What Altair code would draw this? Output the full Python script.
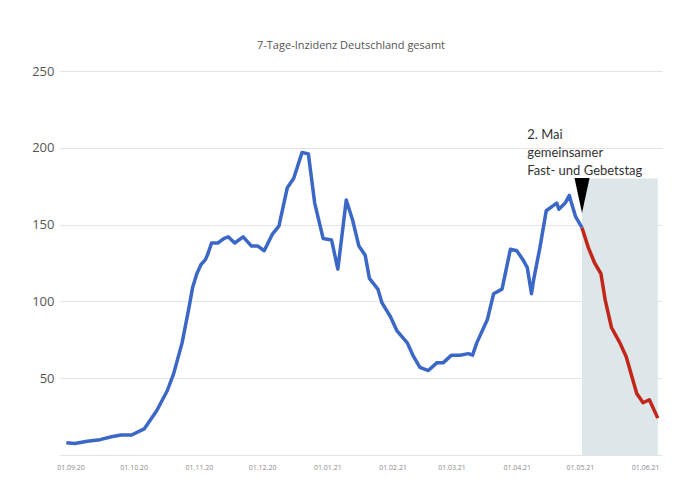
import altair as alt
import pandas as pd

blue_dates = ["2020-08-30","2020-09-03","2020-09-09","2020-09-15","2020-09-21","2020-09-25","2020-09-30",
    "2020-10-06","2020-10-12","2020-10-17","2020-10-20","2020-10-24","2020-10-27","2020-10-29","2020-10-31",
    "2020-11-02","2020-11-04","2020-11-05","2020-11-07","2020-11-10","2020-11-13","2020-11-15","2020-11-18",
    "2020-11-22","2020-11-26","2020-11-29","2020-12-02","2020-12-06","2020-12-09","2020-12-13","2020-12-15",
    "2020-12-16","2020-12-20","2020-12-23","2020-12-26","2020-12-30","2021-01-03","2021-01-06","2021-01-10",
    "2021-01-13","2021-01-16","2021-01-19","2021-01-21","2021-01-25","2021-01-27","2021-01-31","2021-02-03",
    "2021-02-08","2021-02-11","2021-02-14","2021-02-18","2021-02-22","2021-02-25","2021-03-01","2021-03-05",
    "2021-03-09","2021-03-11","2021-03-13","2021-03-18","2021-03-21","2021-03-25","2021-03-27","2021-03-29",
    "2021-04-01","2021-04-04","2021-04-06","2021-04-08","2021-04-09","2021-04-12","2021-04-15","2021-04-18",
    "2021-04-20","2021-04-21","2021-04-24","2021-04-26","2021-04-27","2021-04-29","2021-05-02"]
blue_values = [8,7.5,9,10,12,13,13,
    17,29,42,53,73,94,109,118,
    124,127,130,138,138,141,142,138,
    142,136,136,133,144,149,174,178,
    180,197,196,164,141,140,121,166,
    153,136,130,115,108,99,90,81,
    73,64,57,55,60,60,65,65,
    66,65,73,88,105,108,121,134,
    133,127,122,105,114,135,159,162,
    164,160,164,169,164,155,148]

red_dates = ["2021-05-02","2021-05-05","2021-05-08","2021-05-11","2021-05-13","2021-05-16","2021-05-20",
    "2021-05-23","2021-05-28","2021-05-31","2021-06-03","2021-06-07"]
red_values = [148,135,125,118,101,83,73,64,40,34,36,24]

shade_start = "2021-05-02"
shade_end = "2021-06-07"
shade_top = 180

marker_date = "2021-05-02"
marker_value = 169

note_date = "2021-04-06"
note_value = 212
note_text = "2. Mai\ngemeinsamer\nFast- und Gebetstag"

title_text = "7-Tage-Inzidenz Deutschland gesamt"
y_ticks = [0, 50, 100, 150, 200, 250]

blue_df = pd.DataFrame({"date": blue_dates, "value": blue_values})
red_df = pd.DataFrame({"date": red_dates, "value": red_values})
shade_df = pd.DataFrame({"start": [shade_start], "end": [shade_end], "top": [shade_top], "bottom": [0]})
marker_df = pd.DataFrame({"date": [marker_date], "value": [marker_value]})
note_df = pd.DataFrame({"date": [note_date], "value": [note_value], "text": [note_text]})

x_ticks = [alt.DateTime(year=y, month=m, date=1, utc=True) for (y, m) in
           [(2020, 9), (2020, 10), (2020, 11), (2020, 12), (2021, 1), (2021, 2), (2021, 3), (2021, 4), (2021, 5), (2021, 6)]]

xscale = alt.Scale(type="utc", domain=[alt.DateTime(year=2020, month=8, date=27, utc=True),
                                       alt.DateTime(year=2021, month=6, date=9, utc=True)])
yscale = alt.Scale(domain=[0, 250], nice=False)

xaxis = alt.Axis(values=x_ticks, labelExpr="utcFormat(datum.value, '%d.%m.%y')", title=None, grid=False,
                 ticks=False, domain=False, labelFontSize=7, labelColor="#8a8a8a", labelPadding=8,
                 labelFont="Open Sans")
yaxis = alt.Axis(values=y_ticks, title=None, ticks=False, domain=False, grid=True, gridColor="#e4e4e4",
                 labelExpr="datum.value == 0 ? '' : datum.label", labelFontSize=13, labelColor="#555555",
                 labelPadding=6, labelFont="Open Sans")

shade = alt.Chart(shade_df).mark_rect(color="#dde6e8").encode(
    x=alt.X("start:T", scale=xscale, axis=xaxis),
    x2="end:T",
    y=alt.Y("bottom:Q", scale=yscale, axis=yaxis),
    y2="top:Q",
)

blue = alt.Chart(blue_df).mark_line(color="#3b67c6", strokeWidth=3.5, strokeJoin="round").encode(
    x=alt.X("date:T", scale=xscale),
    y=alt.Y("value:Q", scale=yscale),
)

red = alt.Chart(red_df).mark_line(color="#c2261a", strokeWidth=3.5, strokeJoin="round").encode(
    x=alt.X("date:T", scale=xscale),
    y=alt.Y("value:Q", scale=yscale),
)

marker = alt.Chart(marker_df).mark_point(shape="M-0.43,-1L0.43,-1L0,1Z", filled=True, color="black",
                                         opacity=1, size=1225).encode(
    x=alt.X("date:T", scale=xscale),
    y=alt.Y("value:Q", scale=yscale),
)

note = alt.Chart(note_df).mark_text(align="left", baseline="top", fontSize=13, lineHeight=18,
                                    color="#333333", font="Lato", lineBreak="\n").encode(
    x=alt.X("date:T", scale=xscale),
    y=alt.Y("value:Q", scale=yscale),
    text="text:N",
)

chart = alt.layer(shade, blue, red, marker, note).properties(
    width=602,
    height=384,
    autosize=alt.AutoSizeParams(type="none"),
    padding={"left": 52, "top": 63, "right": 11, "bottom": 34},
    title=alt.Title(title_text, fontSize=11, fontWeight="normal", color="#555555", font="Open Sans",
                    offset=14, dx=-10),
    background="white",
).configure_view(stroke=None)

chart.save("out.html", embed_options={"renderer": "svg", "actions": False})
